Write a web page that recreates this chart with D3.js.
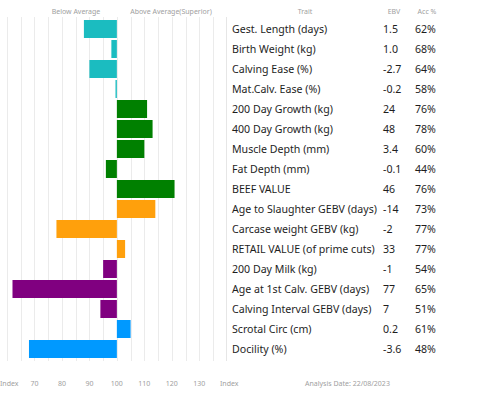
<!DOCTYPE html>
<html>
<head>
<meta charset="utf-8">
<script src="https://cdn.jsdelivr.net/npm/d3@7"></script>
<style>
  body { margin: 0; background: #fff; }
  text { font-family: "Noto Sans", sans-serif; }
</style>
</head>
<body>
<div id="chart"></div>
<script>
// trait rows, top to bottom
var traits = ["Gest. Length (days)", "Birth Weight (kg)", "Calving Ease (%)", "Mat.Calv. Ease (%)",
  "200 Day Growth (kg)", "400 Day Growth (kg)", "Muscle Depth (mm)", "Fat Depth (mm)", "BEEF VALUE",
  "Age to Slaughter GEBV (days)", "Carcase weight GEBV (kg)", "RETAIL VALUE (of prime cuts)",
  "200 Day Milk (kg)", "Age at 1st Calv. GEBV (days)", "Calving Interval GEBV (days)",
  "Scrotal Circ (cm)", "Docility (%)"];
var ebv = ["1.5", "1.0", "-2.7", "-0.2", "24", "48", "3.4", "-0.1", "46", "-14", "-2", "33", "-1", "77", "7", "0.2", "-3.6"];
var acc = ["62%", "68%", "64%", "58%", "76%", "78%", "60%", "44%", "76%", "73%", "77%", "77%", "54%", "65%", "51%", "61%", "48%"];
var index = [88, 98, 90, 99.5, 111, 113, 110, 96, 121, 114, 78, 103, 95, 62, 94, 105, 68];
var group = ["calving", "calving", "calving", "calving", "growth", "growth", "growth", "growth", "growth",
  "carcase", "carcase", "carcase", "maternal", "maternal", "maternal", "fertility", "fertility"];
var groups = ["calving", "growth", "carcase", "maternal", "fertility"];
var ticks = [70, 80, 90, 100, 110, 120, 130];
var date = "22/08/2023";

var width = 482, height = 397;
var svg = d3.select("#chart").append("svg")
  .attr("width", width).attr("height", height);

var x = d3.scaleLinear().domain([60, 135]).range([7, 213]);
var y = d3.scaleBand().domain(d3.range(traits.length)).range([19, 359]).paddingInner(0.1).paddingOuter(0.05);
var color = d3.scaleOrdinal().domain(groups)
  .range(["#1bbcc0", "#008000", "#ffa00c", "#800080", "#0099ff"]);

// grid every 5
svg.append("g").selectAll("line")
  .data(d3.range(60, 136, 5))
  .enter().append("line")
  .attr("x1", function (d) { return Math.round(x(d)) + 0.5; })
  .attr("x2", function (d) { return Math.round(x(d)) + 0.5; })
  .attr("y1", 17).attr("y2", 361)
  .attr("stroke", "#ebebeb");

// table left border
svg.append("line")
  .attr("x1", 226.5).attr("x2", 226.5).attr("y1", 17).attr("y2", 361)
  .attr("stroke", "#e6e6e6");

// bars
svg.append("g").selectAll("rect")
  .data(index)
  .enter().append("rect")
  .attr("x", function (d) { return x(Math.min(d, 100)); })
  .attr("width", function (d) { return Math.max(1.2, Math.abs(x(d) - x(100))); })
  .attr("y", function (d, i) { return y(i); })
  .attr("height", y.bandwidth())
  .attr("fill", function (d, i) { return color(group[i]); });

// headers
var head = svg.append("g").attr("font-size", 7).attr("fill", "#a0a0a0").attr("text-anchor", "middle");
head.append("text").attr("x", 76).attr("y", 14).text("Below Average");
head.append("text").attr("x", 171).attr("y", 14).text("Above Average(Superior)");
head.append("text").attr("x", 305).attr("y", 14).text("Trait");
head.append("text").attr("x", 394).attr("y", 14).text("EBV");
head.append("text").attr("x", 427).attr("y", 14).text("Acc %");

// table rows
var rows = svg.append("g").attr("font-size", 10.6).attr("fill", "#1e1e1e");
rows.selectAll(".trait").data(traits).enter().append("text")
  .attr("x", 232).attr("y", function (d, i) { return y(i) + y.bandwidth() / 2 + 4; })
  .text(function (d) { return d; });
rows.selectAll(".ebv").data(ebv).enter().append("text")
  .attr("x", 383).attr("y", function (d, i) { return y(i) + y.bandwidth() / 2 + 4; })
  .text(function (d) { return d; });
rows.selectAll(".acc").data(acc).enter().append("text")
  .attr("x", 415).attr("y", function (d, i) { return y(i) + y.bandwidth() / 2 + 4; })
  .text(function (d) { return d; });

// bottom axis labels
var foot = svg.append("g").attr("font-size", 7).attr("fill", "#a0a0a0");
foot.selectAll(".tick").data(ticks).enter().append("text")
  .attr("x", function (d) { return x(d); }).attr("y", 386)
  .attr("text-anchor", "middle")
  .text(function (d) { return d; });
foot.append("text").attr("x", 0).attr("y", 386).text("Index");
foot.append("text").attr("x", 220).attr("y", 386).text("Index");
foot.append("text").attr("x", 305).attr("y", 386).text("Analysis Date: " + date);
</script>
</body>
</html>
